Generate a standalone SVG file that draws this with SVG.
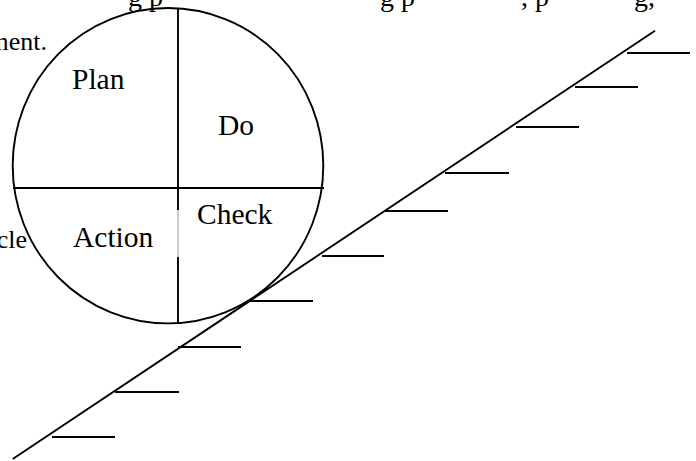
<svg xmlns="http://www.w3.org/2000/svg" width="696" height="461" viewBox="0 0 696 461">
<style>
.t{font-family:"Liberation Serif","Times New Roman",serif;fill:#000}
.lbl{font-size:29.5px}
.body{font-size:26px}
.top{font-size:28px}
.ln{stroke:#000;stroke-width:1.9;fill:none}
.tick{stroke:#000;stroke-width:1.9}
</style>
<rect width="696" height="461" fill="#fff"/>
<g id="body-text">
<text class="t top" x="128" y="6">g p</text>
<text class="t top" x="380" y="6">g p</text>
<text class="t top" x="521" y="6">, p</text>
<text class="t top" x="634" y="6">g,</text>
<text class="t body" x="47" y="50" text-anchor="end">ment.</text>
<text class="t body" x="27" y="248" text-anchor="end">cle</text>
</g>
<g id="pdca-circle">
<ellipse class="ln" cx="168" cy="165.7" rx="155.3" ry="157.7"/>
<line class="ln" x1="13" y1="188" x2="324" y2="188"/>
<line class="ln" x1="178" y1="8" x2="178" y2="210"/>
<line x1="178" y1="210" x2="178" y2="257" stroke="#999" stroke-width="1"/>
<line class="ln" x1="178" y1="257" x2="178" y2="323"/>
</g>
<g id="plan"><text class="t lbl" x="72" y="89">Plan</text></g>
<g id="do"><text class="t lbl" x="218" y="135">Do</text></g>
<g id="check"><text class="t lbl" x="197" y="224">Check</text></g>
<g id="action"><text class="t lbl" x="73" y="247">Action</text></g>
<g id="connectors">
<line class="ln" x1="12.7" y1="459" x2="655" y2="30.7"/>
<line class="tick" x1="627" y1="53" x2="690" y2="53"/>
<line class="tick" x1="575" y1="87" x2="638" y2="87"/>
<line class="tick" x1="516" y1="127" x2="579" y2="127"/>
<line class="tick" x1="445" y1="173" x2="509" y2="173"/>
<line class="tick" x1="385" y1="211" x2="448" y2="211"/>
<line class="tick" x1="322" y1="256" x2="384" y2="256"/>
<line class="tick" x1="250" y1="301" x2="313" y2="301"/>
<line class="tick" x1="178" y1="347" x2="241" y2="347"/>
<line class="tick" x1="115" y1="392" x2="179" y2="392"/>
<line class="tick" x1="52" y1="437" x2="115" y2="437"/>
</g>
</svg>
